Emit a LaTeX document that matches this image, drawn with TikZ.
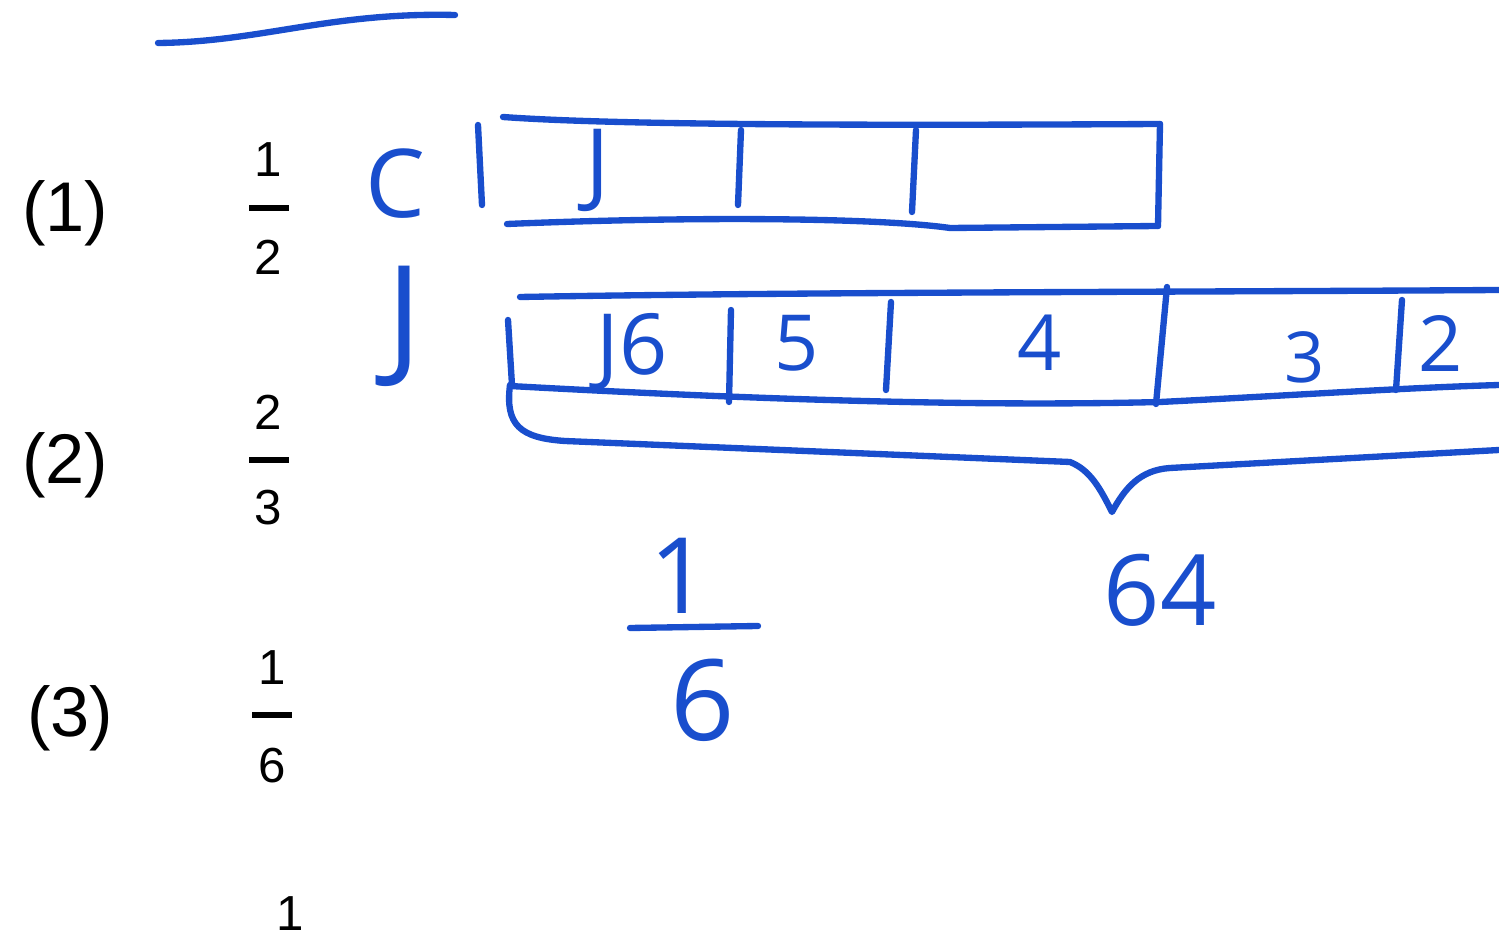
\documentclass[tikz,border=0pt]{standalone}
\usepackage{fontspec}
\setmainfont{Liberation Sans}
\newfontfamily\handfont{Open Sans}
\definecolor{inkblue}{RGB}{25,78,205}

\begin{document}
\begin{tikzpicture}[x=0.01cm, y=-0.01cm,
    pen/.style={draw=inkblue, line width=1.8pt, line cap=round, line join=round},
    hand/.style={text=inkblue, inner sep=0pt, font=\handfont},
    printed/.style={inner sep=0pt, font=\fontsize{20}{20}\selectfont},
    frac/.style={inner sep=0pt, font=\fontsize{14}{14}\selectfont}]

    % page size, (x, y) in pixels of the scan
    \useasboundingbox (0, 0) rectangle (1499, 943);

    % stroke at the top
    \draw[pen] (158, 43) .. controls (260, 42) and (330, 12) .. (455, 15);

    % printed question numbers and fractions
    \node[printed] (n1) at (65, 213) {(1)};
    \node[printed] (n2) at (65, 465) {(2)};
    \node[printed] (n3) at (70, 718) {(3)};

    \node[frac] (a1) at (268, 160) {1};
    \node[frac] (a2) at (268, 257) {2};
    \draw[line width=1.6pt] (249, 208) -- (289, 208);

    \node[frac] (b1) at (268, 412) {2};
    \node[frac] (b2) at (268, 508) {3};
    \draw[line width=1.6pt] (249, 460) -- (289, 460);

    \node[frac] (c1) at (272, 668) {1};
    \node[frac] (c2) at (272, 766) {6};
    \draw[line width=1.6pt] (252, 715) -- (292, 715);

    \node[frac] (d1) at (290, 914) {1};

    % first bar
    \node[hand, font=\handfont\fontsize{27}{27}\selectfont] (cl) at (395, 184) {C};
    \draw[pen] (478, 125) -- (482, 205);
    \draw[pen] (503, 117) .. controls (600, 124) and (800, 126) .. (1160, 124);
    \draw[pen] (507, 224) .. controls (700, 216) and (880, 218) .. (950, 228) -- (1158, 226);
    \draw[pen] (1160, 124) -- (1158, 226);
    \draw[pen] (741, 130) -- (738, 205);
    \draw[pen] (916, 130) -- (912, 212);
    \node[hand, font=\handfont\fontsize{26}{26}\selectfont] (j1) at (598, 170) {J};

    % second bar
    \node[hand, font=\handfont\fontsize{38}{38}\selectfont] (jl) at (404, 326) {J};
    \draw[pen] (508, 320) -- (512, 385);
    \draw[pen] (520, 297) .. controls (800, 292) and (1200, 292) .. (1499, 290);
    \draw[pen] (510, 386) .. controls (800, 402) and (1000, 406) .. (1160, 402) .. controls (1300, 395) and (1400, 388) .. (1499, 385);
    \draw[pen] (731, 310) -- (729, 402);
    \draw[pen] (891, 302) -- (886, 390);
    \draw[pen] (1167, 287) -- (1156, 404);
    \draw[pen] (1402, 300) -- (1396, 390);
    \node[hand, font=\handfont\fontsize{24}{24}\selectfont] (j6) at (632, 352) {J6};
    \node[hand, font=\handfont\fontsize{22}{22}\selectfont] (p5) at (797, 343) {5};
    \node[hand, font=\handfont\fontsize{22}{22}\selectfont] (p4) at (1040, 343) {4};
    \node[hand, font=\handfont\fontsize{20}{20}\selectfont] (p3) at (1305, 357) {3};
    \node[hand, font=\handfont\fontsize{22}{22}\selectfont, anchor=west] (p2) at (1418, 343) {2};

    % brace under the second bar
    \draw[pen] (510, 385) .. controls (505, 425) and (520, 438) .. (565, 441)
        -- (1070, 462) .. controls (1090, 470) and (1100, 488) .. (1112, 512)
        .. controls (1125, 488) and (1140, 470) .. (1170, 468) -- (1499, 450);
    \node[hand, font=\handfont\fontsize{28}{28}\selectfont] (tot) at (1160, 590) {64};

    % one sixth
    \node[hand, font=\handfont\fontsize{30}{30}\selectfont] (s1) at (680, 576) {1};
    \draw[pen] (630, 628) -- (758, 626);
    \node[hand, font=\handfont\fontsize{32}{32}\selectfont] (s6) at (703, 700) {6};

\end{tikzpicture}
\end{document}
